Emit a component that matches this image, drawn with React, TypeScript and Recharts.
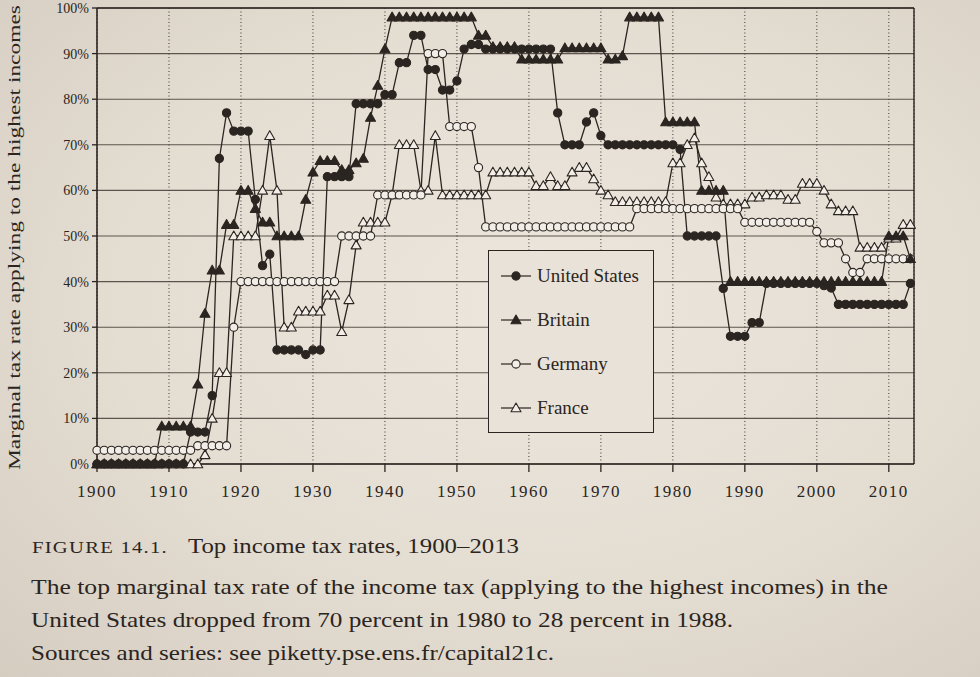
import React from 'react';
import {
  LineChart,
  Line,
  XAxis,
  YAxis,
  CartesianGrid,
  ReferenceLine,
  Legend,
} from 'recharts';

// years 1900..2013, one row per year
const years: number[] = Array.from({ length: 114 }, (_, i) => 1900 + i);

// top marginal income tax rates (%), one value per year
const usRate = [
  0, 0, 0, 0, 0, 0, 0, 0, 0, 0,
  0, 0, 0, 7, 7, 7, 15, 67, 77, 73,
  73, 73, 58, 43.5, 46, 25, 25, 25, 25, 24,
  25, 25, 63, 63, 63, 63, 79, 79, 79, 79,
  81, 81, 88, 88, 94, 94, 86.5, 86.5, 82, 82,
  84, 91, 92, 92, 91, 91, 91, 91, 91, 91,
  91, 91, 91, 91, 77, 70, 70, 70, 75, 77,
  72, 70, 70, 70, 70, 70, 70, 70, 70, 70,
  70, 69, 50, 50, 50, 50, 50, 38.5, 28, 28,
  28, 31, 31, 39.6, 39.6, 39.6, 39.6, 39.6, 39.6, 39.6,
  39.6, 39.1, 38.6, 35, 35, 35, 35, 35, 35, 35,
  35, 35, 35, 39.6,
];

const britainRate = [
  0, 0, 0, 0, 0, 0, 0, 0, 0, 8.3,
  8.3, 8.3, 8.3, 8.3, 17.5, 33, 42.5, 42.5, 52.5, 52.5,
  60, 60, 56, 53, 53, 50, 50, 50, 50, 58,
  64, 66.5, 66.5, 66.5, 64.5, 64.5, 66, 67, 76, 83,
  91, 98, 98, 98, 98, 98, 98, 98, 98, 98,
  98, 98, 98, 94, 94, 91.5, 91.5, 91.5, 91.5, 88.75,
  88.75, 88.75, 88.75, 88.75, 88.75, 91.25, 91.25, 91.25, 91.25, 91.25,
  91.25, 88.75, 88.75, 89.5, 98, 98, 98, 98, 98, 75,
  75, 75, 75, 75, 60, 60, 60, 60, 40, 40,
  40, 40, 40, 40, 40, 40, 40, 40, 40, 40,
  40, 40, 40, 40, 40, 40, 40, 40, 40, 40,
  50, 50, 50, 45,
];

const germanyRate = [
  3, 3, 3, 3, 3, 3, 3, 3, 3, 3,
  3, 3, 3, 3, 4, 4, 4, 4, 4, 30,
  40, 40, 40, 40, 40, 40, 40, 40, 40, 40,
  40, 40, 40, 40, 50, 50, 50, 50, 50, 59,
  59, 59, 59, 59, 59, 59, 90, 90, 90, 74,
  74, 74, 74, 65, 52, 52, 52, 52, 52, 52,
  52, 52, 52, 52, 52, 52, 52, 52, 52, 52,
  52, 52, 52, 52, 52, 56, 56, 56, 56, 56,
  56, 56, 56, 56, 56, 56, 56, 56, 56, 56,
  53, 53, 53, 53, 53, 53, 53, 53, 53, 53,
  51, 48.5, 48.5, 48.5, 45, 42, 42, 45, 45, 45,
  45, 45, 45, 45,
];

const franceRate = [
  0, 0, 0, 0, 0, 0, 0, 0, 0, 0,
  0, 0, 0, 0, 0, 2, 10, 20, 20, 50,
  50, 50, 50, 60, 72, 60, 30, 30, 33.5, 33.5,
  33.5, 33.5, 37, 37, 29, 36, 48, 53, 53, 53,
  53, 59, 70, 70, 70, 60, 60, 72, 59, 59,
  59, 59, 59, 59, 59, 64, 64, 64, 64, 64,
  64, 61, 61, 63, 61, 61, 64, 65, 65, 62.5,
  60, 59, 57.5, 57.5, 57.5, 57.5, 57.5, 57.5, 57.5, 57.5,
  66, 66, 70, 71.5, 66, 63, 58.5, 57, 57, 57,
  57, 58.5, 58.5, 59, 59, 59, 58, 58, 61.5, 61.5,
  61.5, 60, 57, 55.5, 55.5, 55.5, 47.5, 47.5, 47.5, 47.5,
  49.5, 49.5, 52.5, 52.5,
];

const decadeTicks = [1900, 1910, 1920, 1930, 1940, 1950, 1960, 1970, 1980, 1990, 2000, 2010];
const rateTicks = [0, 10, 20, 30, 40, 50, 60, 70, 80, 90, 100];

const data = years.map((year, i) => ({
  year,
  us: usRate[i],
  britain: britainRate[i],
  germany: germanyRate[i],
  france: franceRate[i],
}));

const INK = '#2b2521';
const HOLLOW = '#f2ede6';
const SERIF = "'Liberation Serif', 'DejaVu Serif', serif";

type Shape = 'circle' | 'triangle';
const series: { key: string; name: string; shape: Shape; filled: boolean }[] = [
  { key: 'us', name: 'United States', shape: 'circle', filled: true },
  { key: 'britain', name: 'Britain', shape: 'triangle', filled: true },
  { key: 'germany', name: 'Germany', shape: 'circle', filled: false },
  { key: 'france', name: 'France', shape: 'triangle', filled: false },
];

function marker(shape: Shape, filled: boolean, cx: number, cy: number, k?: string) {
  const fill = filled ? INK : HOLLOW;
  if (shape === 'circle') {
    return <circle key={k} cx={cx} cy={cy} r={4.1} fill={fill} stroke={INK} strokeWidth={1.1} />;
  }
  const s = 5;
  return (
    <path
      key={k}
      d={`M${cx},${cy - s} L${cx + s},${cy + s * 0.75} L${cx - s},${cy + s * 0.75} Z`}
      fill={fill}
      stroke={INK}
      strokeWidth={1.1}
      strokeLinejoin="round"
    />
  );
}

const dotFor = (shape: Shape, filled: boolean) => (p: any) => {
  if (p.cx == null || p.cy == null) return <g key={`e${p.index}`} />;
  return marker(shape, filled, p.cx, p.cy, `${shape}${filled}${p.index}`);
};

const LegendBox = () => (
  <div
    style={{
      width: 166,
      height: 183,
      boxSizing: 'border-box',
      border: `1.5px solid ${INK}`,
      background: '#e9e2d8',
      padding: '3px 0 0 10px',
      fontFamily: SERIF,
      fontSize: 19,
      color: INK,
    }}
  >
    {series.map((s) => (
      <div key={s.key} style={{ display: 'flex', alignItems: 'center', height: 44 }}>
        <svg width={34} height={14} style={{ overflow: 'visible' }}>
          <line x1={2} x2={32} y1={7} y2={7} stroke={INK} strokeWidth={1.2} />
          {marker(s.shape, s.filled, 17, 7)}
        </svg>
        <span style={{ marginLeft: 4 }}>{s.name}</span>
      </div>
    ))}
  </div>
);

// draw order: France at the back, Britain on top
const drawOrder = ['france', 'germany', 'us', 'britain'];

export default function App() {
  return (
    <div
      style={{
        position: 'absolute',
        left: 0,
        top: 0,
        width: 980,
        height: 677,
        overflow: 'hidden',
        background: 'radial-gradient(ellipse at 55% 45%, #ece6dd 0%, #e4ddd2 55%, #d6cdc1 100%)',
      }}
    >
      <LineChart
        width={980}
        height={520}
        data={data}
        margin={{ top: 8, right: 66, bottom: 0, left: 0 }}
      >
        <CartesianGrid vertical={false} stroke="#5c544d" strokeWidth={1.1} />
        <CartesianGrid horizontal={false} stroke="#4a433d" strokeWidth={1.1} strokeDasharray="1 2.5" />
        <XAxis
          dataKey="year"
          type="number"
          domain={[1900, 2013.5]}
          ticks={decadeTicks}
          height={56}
          tickSize={8}
          tickMargin={13}
          axisLine={{ stroke: INK, strokeWidth: 1.6 }}
          tickLine={{ stroke: INK, strokeWidth: 1.3 }}
          tick={{ fill: INK, fontFamily: SERIF, fontSize: 17, letterSpacing: 1.5 }}
        />
        <YAxis
          type="number"
          domain={[0, 100]}
          ticks={rateTicks}
          width={97}
          tickSize={5}
          tickMargin={3}
          tickFormatter={(v: number) => `${v}%`}
          axisLine={{ stroke: INK, strokeWidth: 1.6 }}
          tickLine={{ stroke: INK, strokeWidth: 1.3 }}
          tick={{ fill: INK, fontFamily: SERIF, fontSize: 14 }}
        />
        <ReferenceLine y={100} stroke={INK} strokeWidth={1.4} />
        <ReferenceLine x={2013.5} stroke={INK} strokeWidth={1.4} />
        {drawOrder.map((k) => {
          const s = series.find((x) => x.key === k)!;
          return (
            <Line
              key={s.key}
              dataKey={s.key}
              name={s.name}
              type="linear"
              stroke={INK}
              strokeWidth={1.3}
              dot={dotFor(s.shape, s.filled)}
              activeDot={false}
              isAnimationActive={false}
            />
          );
        })}
        <Legend
          layout="vertical"
          align="center"
          verticalAlign="middle"
          content={() => <LegendBox />}
          wrapperStyle={{ position: 'absolute', left: 488, top: 250, width: 166, height: 183 }}
        />
      </LineChart>

      <svg
        width={980}
        height={677}
        style={{ position: 'absolute', left: 0, top: 0, pointerEvents: 'none' }}
      >
        <text
          transform="translate(20,470) rotate(-90)"
          fontFamily={SERIF}
          fontSize={16.5}
          fill={INK}
          textLength={465}
          lengthAdjust="spacingAndGlyphs"
        >
          Marginal tax rate applying to the highest incomes
        </text>
        <text x={32} y={553} fontFamily={SERIF} fontSize={16} fill={INK} letterSpacing={1} textLength={136} lengthAdjust="spacingAndGlyphs">
          FIGURE 14.1.
        </text>
        <text x={188} y={553} fontFamily={SERIF} fontSize={22} fill={INK} textLength={331} lengthAdjust="spacingAndGlyphs">
          Top income tax rates, 1900–2013
        </text>
        <text x={31} y={594} fontFamily={SERIF} fontSize={22} fill={INK} textLength={857} lengthAdjust="spacingAndGlyphs">
          The top marginal tax rate of the income tax (applying to the highest incomes) in the
        </text>
        <text x={31} y={627} fontFamily={SERIF} fontSize={22} fill={INK} textLength={702} lengthAdjust="spacingAndGlyphs">
          United States dropped from 70 percent in 1980 to 28 percent in 1988.
        </text>
        <text x={31} y={660} fontFamily={SERIF} fontSize={22} fill={INK} textLength={523} lengthAdjust="spacingAndGlyphs">
          Sources and series: see piketty.pse.ens.fr/capital21c.
        </text>
      </svg>
    </div>
  );
}
